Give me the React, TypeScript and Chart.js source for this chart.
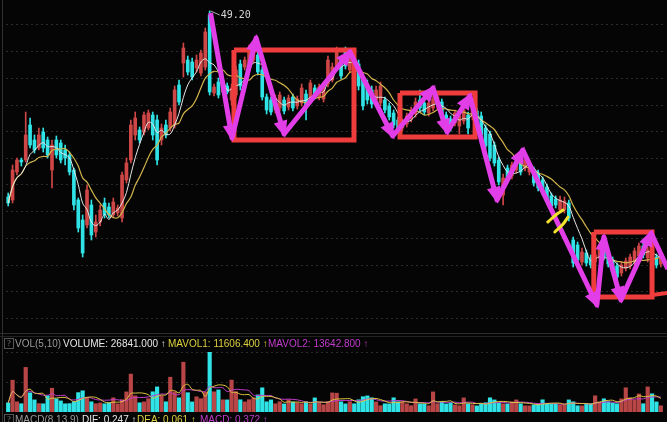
import React, { useEffect, useRef } from "react";
import { Chart, registerables } from "chart.js";

Chart.register(...registerables);

// ---- Candles (price) ----
const OPEN = [
  30.6, 30.3, 33.1, 34.3, 34.3, 37.8, 36.3, 35.5, 37.1, 36.3,
  33.3, 36.3, 36.0, 35.3, 34.8, 33.3, 30.3, 28.3, 27.8, 29.8,
  27.1, 28.1, 30.0, 29.6, 28.8, 29.0, 28.5, 32.3, 34.3, 36.8,
  37.3, 37.1, 37.5, 38.8, 38.3, 36.3, 37.8, 37.5, 37.8, 41.8,
  44.0, 44.3, 44.1, 43.5, 43.0, 43.6, 48.8, 41.0, 42.1, 41.1,
  41.7, 40.3, 40.8, 43.9, 43.6, 43.8, 44.3, 44.8, 43.3, 40.6,
  40.3, 39.3, 39.5, 40.3, 39.6, 40.6, 39.7, 40.0, 40.9, 40.3,
  41.5, 40.6, 40.4, 41.9, 42.3, 43.5, 44.3, 45.3, 43.3, 44.1,
  43.9, 42.5, 41.9, 41.3, 40.3, 40.0, 40.3, 39.7, 39.0, 38.3,
  37.5, 37.9, 38.4, 38.9, 40.3, 40.0, 39.0, 39.5, 39.9, 40.1,
  38.8, 38.4, 38.0, 37.7, 38.2, 38.8, 38.6, 39.2, 38.7, 37.5,
  36.9, 35.8, 34.3, 30.8, 33.5, 32.7, 33.3, 34.0, 33.5, 33.1,
  33.3, 33.0, 32.3, 31.6, 30.7, 30.4, 29.3, 29.3, 30.0, 26.3,
  25.8, 24.1, 25.0, 24.5, 24.1, 24.5, 26.0, 25.2, 24.3, 23.7,
  23.0, 23.5, 23.7, 24.1, 24.7, 25.7, 24.5, 25.2, 24.6, 23.9,
];
const HIGH = [
  31.0, 33.8, 34.5, 34.5, 39.1, 38.5, 36.8, 37.5, 37.5, 36.6,
  36.3, 36.7, 36.3, 35.8, 35.1, 33.5, 30.5, 28.8, 31.8, 30.3,
  28.8, 29.8, 30.5, 30.0, 30.5, 29.8, 33.1, 34.5, 38.3, 39.1,
  37.6, 39.1, 39.3, 39.1, 38.8, 37.9, 38.3, 39.5, 41.7, 42.3,
  46.0, 44.7, 44.5, 44.8, 45.3, 47.5, 49.2, 41.9, 42.5, 42.3,
  42.0, 41.9, 43.7, 44.3, 44.6, 45.8, 45.7, 45.1, 43.6, 40.9,
  40.6, 40.8, 41.1, 40.6, 40.8, 40.9, 40.7, 41.9, 41.3, 42.3,
  41.8, 41.9, 42.1, 44.7, 44.0, 45.6, 44.7, 45.6, 45.3, 44.5,
  44.3, 42.9, 42.3, 41.7, 41.7, 42.1, 40.6, 40.0, 39.3, 38.6,
  38.4, 39.0, 39.6, 40.5, 41.3, 40.3, 40.3, 40.7, 40.9, 40.4,
  39.1, 38.7, 39.3, 39.0, 39.6, 39.1, 40.0, 39.5, 39.1, 37.8,
  37.2, 36.1, 34.6, 32.9, 33.8, 34.1, 34.6, 34.3, 34.7, 34.3,
  33.6, 33.3, 32.6, 31.9, 31.0, 30.7, 30.7, 30.6, 30.3, 26.6,
  26.1, 25.5, 25.3, 24.8, 25.1, 25.7, 26.6, 25.5, 24.6, 24.0,
  24.1, 24.5, 24.9, 25.5, 26.0, 26.0, 25.6, 25.5, 24.9, 24.8,
];
const LOW = [
  29.7, 30.0, 32.8, 33.7, 34.1, 35.5, 35.0, 35.3, 35.1, 34.5,
  31.5, 34.5, 34.0, 33.8, 32.8, 29.3, 27.1, 24.6, 27.5, 26.3,
  26.6, 27.7, 28.5, 28.5, 28.5, 28.7, 28.1, 32.0, 34.0, 36.3,
  36.0, 36.8, 37.3, 36.3, 33.8, 35.8, 36.5, 37.2, 37.5, 39.8,
  42.6, 42.8, 42.3, 43.1, 42.7, 43.3, 40.8, 40.7, 40.5, 40.8,
  40.9, 39.8, 40.5, 41.3, 43.3, 43.5, 44.0, 42.8, 40.3, 38.9,
  38.8, 39.0, 39.2, 38.9, 39.3, 39.2, 39.4, 39.7, 38.3, 40.0,
  40.4, 40.3, 40.1, 41.6, 42.1, 43.2, 42.4, 43.4, 43.0, 42.4,
  41.3, 39.3, 39.9, 39.5, 39.9, 39.7, 39.0, 38.3, 37.5, 37.2,
  37.2, 37.6, 38.1, 38.6, 39.2, 38.8, 38.7, 39.2, 39.4, 38.2,
  37.5, 37.2, 37.7, 36.9, 37.9, 36.9, 38.3, 38.0, 36.5, 35.4,
  34.2, 33.7, 31.8, 29.8, 32.0, 32.4, 33.0, 32.8, 33.2, 32.8,
  31.7, 31.2, 30.8, 30.0, 29.4, 29.5, 29.0, 29.0, 28.2, 23.6,
  24.0, 23.8, 23.7, 23.5, 23.8, 24.2, 24.3, 23.6, 22.8, 22.3,
  22.7, 23.2, 23.4, 23.8, 24.4, 24.5, 24.1, 24.0, 23.5, 23.6,
];
const CLOSE = [
  30.0, 33.3, 34.3, 34.1, 36.8, 35.8, 35.3, 36.8, 35.5, 34.8,
  35.8, 34.8, 34.3, 34.5, 33.1, 29.8, 27.5, 25.0, 31.3, 26.8,
  28.1, 29.3, 28.8, 28.8, 30.1, 29.5, 32.8, 34.0, 37.8, 38.5,
  36.3, 38.8, 39.0, 36.8, 34.3, 37.5, 36.8, 39.1, 41.3, 40.1,
  45.5, 43.1, 42.6, 44.3, 45.0, 47.1, 41.1, 41.6, 40.8, 41.9,
  41.1, 41.5, 43.3, 41.7, 44.3, 45.5, 45.3, 43.1, 40.6, 39.3,
  39.1, 40.5, 40.8, 39.2, 40.5, 39.5, 40.4, 41.5, 39.5, 42.0,
  40.7, 41.6, 41.8, 44.3, 43.6, 45.3, 42.7, 43.7, 45.0, 42.7,
  41.7, 39.7, 40.3, 39.9, 41.3, 41.7, 39.3, 38.6, 37.8, 37.5,
  38.1, 38.7, 39.3, 40.1, 39.5, 39.1, 40.0, 40.4, 40.6, 38.5,
  37.8, 37.5, 39.0, 38.7, 39.3, 37.5, 39.7, 38.3, 36.8, 35.7,
  34.5, 34.0, 32.1, 32.5, 32.3, 33.8, 34.3, 33.1, 34.3, 33.9,
  32.0, 31.5, 31.1, 30.3, 29.7, 29.8, 30.3, 30.2, 28.5, 24.0,
  24.3, 25.1, 24.0, 23.8, 24.8, 25.4, 24.6, 23.9, 23.1, 22.6,
  23.8, 24.2, 24.6, 25.2, 25.7, 24.8, 25.3, 24.3, 23.8, 24.5,
];
const VOLUME = [
  9100, 31800, 10200, 8300, 44600, 19200, 12100, 8400, 8200, 16300,
  23800, 13200, 11100, 8200, 8400, 10300, 19400, 21200, 14100, 10200,
  8300, 9100, 8200, 9400, 14200, 8100, 12300, 20100, 37900, 16200,
  9200, 10100, 13300, 20200, 25100, 16300, 10200, 34800, 20300, 14200,
  49800, 19300, 10100, 15200, 13300, 20100, 59800, 20200, 22100, 12200,
  12100, 31900, 20300, 12200, 10100, 12300, 14200, 17100, 24200, 10200,
  12100, 8200, 10300, 8100, 12200, 10100, 9200, 8300, 10200, 8100,
  14100, 9200, 7300, 10200, 19100, 18800, 10200, 8100, 10300, 8200,
  12200, 15300, 16100, 14200, 10100, 6300, 8200, 8100, 14200, 10300,
  10100, 8200, 6300, 13100, 8200, 8100, 6200, 20100, 8300, 10200,
  8100, 9200, 7100, 6300, 14100, 8200, 7200, 6100, 8200, 9300,
  14200, 12100, 9100, 8200, 8100, 10200, 12100, 8300, 6200, 6100,
  7200, 8100, 12200, 8300, 8100, 8200, 7100, 7200, 12100, 10200,
  6200, 6100, 8300, 8200, 16200, 10100, 13200, 10300, 9100, 8200,
  13100, 24200, 14100, 12200, 18100, 8300, 25100, 18200, 10100, 6200,
];
const LABELS = CLOSE.map((_, i) => `D${i + 1}`);

// hand-drawn annotations, in (bar index, price) data space
const ZIG_X = [46.2, 51.1, 56.6, 63.0, 78.0, 87.8, 97.0, 100.2, 105.4, 111.6, 117.5, 134.4, 136.0, 139.9, 146.8, 150.6];
const ZIG_Y = [49.0, 36.5, 46.5, 36.9, 45.1, 36.7, 41.5, 37.1, 40.7, 30.3, 35.3, 19.8, 26.6, 20.3, 27.0, 23.4];
const BOX1_X = [51.55, 78.95, 78.95, 51.55, 51.55];
const BOX1_Y = [45.3, 45.3, 36.3, 36.3, 45.3];
const BOX2_X = [89.45, 106.6, 106.6, 89.45, 89.45];
const BOX2_Y = [41.0, 41.0, 36.6, 36.6, 41.0];
const BOX3_X = [133.7, 147.0, 147.0, 133.7, 133.7];
const BOX3_Y = [27.1, 27.1, 20.6, 20.6, 27.1];
const TAIL_X = [147.0, 150.6];
const TAIL_Y = [20.8, 21.0];
const MARK1_X = [123.2, 125.3, 126.7];
const MARK1_Y = [28.1, 28.9, 29.3];
const MARK2_X = [124.8, 126.7, 127.8];
const MARK2_Y = [27.1, 27.9, 28.6];

const PRICE_GRID = [47.8, 45.13, 42.47, 39.8, 37.13, 34.47, 31.8, 29.13, 26.47, 23.8, 21.13, 18.47];
const VOL_GRID = [30000, 60000];

const RED = "#cf4646";
const CYAN = "#2fe3e6";
const MAGENTA = "#e23ee8";
const BOXRED = "#ef3d3d";
const BG = "#050505";

function movingAverage(values: number[], n: number) {
  return values.map((_, i) => {
    const w = values.slice(Math.max(0, i - n + 1), i + 1);
    return w.reduce((a, b) => a + b, 0) / w.length;
  });
}
const pts = (xs: number[], ys: number[]) => xs.map((x, i) => ({ x, y: ys[i] }));

const N = CLOSE.length;
const isUp = CLOSE.map((c, i) => c >= OPEN[i]);
const ZIG_INDEX = 8;
const PEAK_INDEX = HIGH.indexOf(Math.max(...HIGH));

const annotate = {
  id: "annotate",
  afterDatasetsDraw(chart: any) {
    const ctx = chart.ctx;
    const meta = chart.getDatasetMeta(ZIG_INDEX);
    const p = meta.data;
    ctx.save();
    ctx.fillStyle = MAGENTA;
    for (let i = 1; i < p.length; i++) {
      const a = p[i - 1], b = p[i];
      if (b.x > chart.width - 2) continue;
      const dx = b.x - a.x, dy = b.y - a.y;
      const len = Math.hypot(dx, dy) || 1;
      const ux = dx / len, uy = dy / len;
      const tx = b.x + ux * 4, ty = b.y + uy * 4;
      const bx = b.x - ux * 13, by = b.y - uy * 13;
      ctx.beginPath();
      ctx.moveTo(tx, ty);
      ctx.lineTo(bx - uy * 7, by + ux * 7);
      ctx.lineTo(bx + uy * 7, by - ux * 7);
      ctx.closePath();
      ctx.fill();
    }
    const px = chart.scales.x.getPixelForValue(PEAK_INDEX);
    const py = chart.scales.y.getPixelForValue(HIGH[PEAK_INDEX]);
    ctx.strokeStyle = "#aaaaaa";
    ctx.lineWidth = 1;
    ctx.beginPath();
    ctx.moveTo(px + 1, py);
    ctx.lineTo(px + 10, py + 4);
    ctx.stroke();
    ctx.fillStyle = "#d6d6d6";
    ctx.font = '10px "DejaVu Sans Mono", monospace';
    ctx.textBaseline = "middle";
    ctx.fillText(HIGH[PEAK_INDEX].toFixed(2), px + 11, py + 4);
    ctx.restore();
  },
};

function gridAxis(values: number[], min: number, max: number) {
  return {
    min,
    max,
    display: true,
    ticks: { display: false },
    grid: { color: "#2c2c2c", lineWidth: 1, drawTicks: false },
    border: { display: false, dash: [2, 3] },
    afterBuildTicks: (ax: any) => {
      ax.ticks = values.map((v) => ({ value: v }));
    },
  };
}

export default function App() {
  const mainRef = useRef<HTMLCanvasElement>(null);
  const volRef = useRef<HTMLCanvasElement>(null);

  useEffect(() => {
    document.body.style.margin = "0";
    document.body.style.background = BG;
    const ma5 = movingAverage(CLOSE, 5);
    const ma10 = movingAverage(CLOSE, 10);
    const lineBase = { type: "line", xAxisID: "xl", pointRadius: 0, tension: 0, borderCapStyle: "butt", borderJoinStyle: "miter" };
    const main = new Chart(mainRef.current!, {
      type: "bar",
      data: {
        labels: LABELS,
        datasets: [
          { data: LOW.map((l, i) => [l, HIGH[i]]), backgroundColor: isUp.map((u) => (u ? RED : CYAN)), barThickness: 1, grouped: false, order: 9 } as any,
          { data: OPEN.map((o, i) => [o, CLOSE[i]]), backgroundColor: isUp.map((u) => (u ? RED : CYAN)), barThickness: 3, minBarLength: 1, grouped: false, order: 8 } as any,
          { type: "line", data: ma5, borderColor: "#e4e4e4", borderWidth: 1, pointRadius: 0, tension: 0.35, order: 7 } as any,
          { type: "line", data: ma10, borderColor: "#d2b54c", borderWidth: 1.2, pointRadius: 0, tension: 0.35, order: 7 } as any,
          { ...lineBase, data: pts(BOX1_X, BOX1_Y), borderColor: BOXRED, borderWidth: 5, order: 5 } as any,
          { ...lineBase, data: pts(BOX2_X, BOX2_Y), borderColor: BOXRED, borderWidth: 5, order: 5 } as any,
          { ...lineBase, data: pts(BOX3_X, BOX3_Y), borderColor: BOXRED, borderWidth: 5, order: 5 } as any,
          { ...lineBase, data: pts(TAIL_X, TAIL_Y), borderColor: BOXRED, borderWidth: 4, order: 5, clip: false } as any,
          { ...lineBase, data: pts(ZIG_X, ZIG_Y), borderColor: MAGENTA, borderWidth: 5, order: 3, clip: false, borderJoinStyle: "round" } as any,
          { ...lineBase, data: pts(MARK1_X, MARK1_Y), borderColor: "#f2e22e", borderWidth: 3, tension: 0.4, borderCapStyle: "round", order: 1 } as any,
          { ...lineBase, data: pts(MARK2_X, MARK2_Y), borderColor: "#f2e22e", borderWidth: 3, tension: 0.4, borderCapStyle: "round", order: 1 } as any,
        ],
      },
      options: {
        animation: false,
        responsive: false,
        events: [],
        layout: { padding: { left: 6, right: 4, top: 0, bottom: 0 } },
        plugins: { legend: { display: false }, tooltip: { enabled: false } },
        scales: {
          x: { type: "category", display: false, offset: true },
          xl: { type: "linear", display: false, offset: false, min: -0.5, max: N - 0.5 },
          y: gridAxis(PRICE_GRID, 17.0, 50.3) as any,
        },
      } as any,
      plugins: [annotate],
    });

    const mavol1 = movingAverage(VOLUME, 5);
    const mavol2 = movingAverage(VOLUME, 10);
    const vol = new Chart(volRef.current!, {
      type: "bar",
      data: {
        labels: LABELS,
        datasets: [
          { data: VOLUME, backgroundColor: isUp.map((u) => (u ? "#b84646" : CYAN)), barThickness: 3.5, order: 3 } as any,
          { type: "line", data: mavol1, borderColor: "#dcc443", borderWidth: 1, pointRadius: 0, tension: 0.35, order: 1 } as any,
          { type: "line", data: mavol2, borderColor: "#c23ccc", borderWidth: 1, pointRadius: 0, tension: 0.35, order: 2 } as any,
        ],
      },
      options: {
        animation: false,
        responsive: false,
        events: [],
        layout: { padding: { left: 6, right: 4, top: 19, bottom: 10 } },
        plugins: { legend: { display: false }, tooltip: { enabled: false } },
        scales: {
          x: { type: "category", display: false, offset: true },
          y: gridAxis(VOL_GRID, 0, 60000) as any,
        },
      } as any,
    });
    return () => {
      main.destroy();
      vol.destroy();
    };
  }, []);

  const font = '10px "Liberation Sans", Arial, sans-serif';
  const q = (top: number) => (
    <span style={{ position: "absolute", left: 4, top, width: 8, height: 9, border: "1px solid #555", color: "#888", fontSize: 8, lineHeight: "9px", textAlign: "center" }}>?</span>
  );
  const t = (left: number, top: number, color: string, text: string) => (
    <span style={{ position: "absolute", left, top, color, whiteSpace: "nowrap", font, lineHeight: "12px" }}>{text}</span>
  );

  return (
    <div style={{ position: "fixed", left: 0, top: 0, width: 667, height: 422, background: BG, overflow: "hidden" }}>
      <canvas ref={mainRef} width={667} height={333} style={{ position: "absolute", left: 0, top: 0 }} />
      <div style={{ position: "absolute", left: 0, top: 333, width: 667, height: 1, background: "#2e2e2e" }} />
      <div style={{ position: "absolute", left: 0, top: 336, width: 667, height: 1, background: "#222" }} />
      <div style={{ position: "absolute", left: 2, top: 0, width: 1, height: 422, background: "#303030" }} />
      <canvas ref={volRef} width={667} height={89} style={{ position: "absolute", left: 0, top: 333 }} />
      {q(338)}
      {t(15, 338, "#9a9a9a", "VOL(5,10)")}
      {t(63, 338, "#e6e6e6", "VOLUME: 26841.000 ↑")}
      {t(168, 338, "#dcd040", "MAVOL1: 11606.400 ↑")}
      {t(268, 338, "#c23ccc", "MAVOL2: 13642.800 ↑")}
      {q(414)}
      {t(15, 414, "#9a9a9a", "MACD(8,13,9)")}
      {t(82, 414, "#e6e6e6", "DIF: 0.247 ↑")}
      {t(137, 414, "#dcd040", "DEA: 0.061 ↑")}
      {t(200, 414, "#c23ccc", "MACD: 0.372 ↑")}
    </div>
  );
}
